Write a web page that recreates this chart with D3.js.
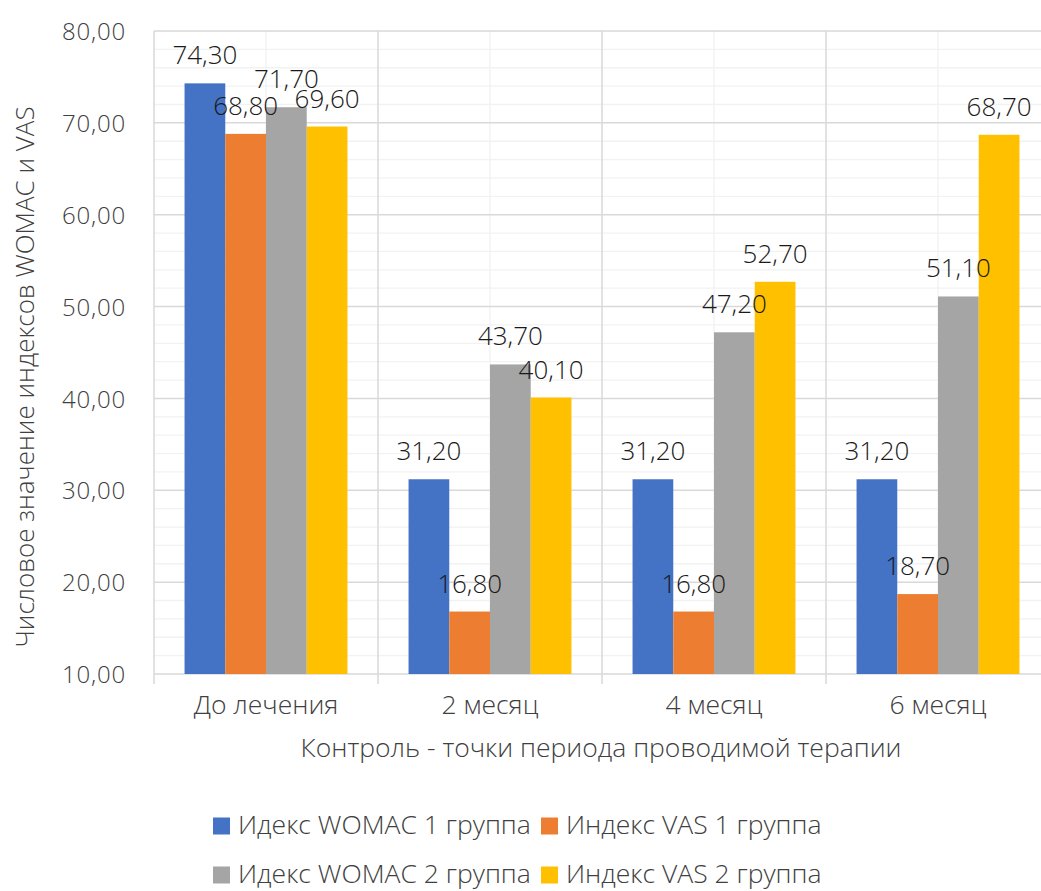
<!DOCTYPE html>
<html><head><meta charset="utf-8">
<script src="https://cdn.jsdelivr.net/npm/d3@7"></script>
<style>body{margin:0;background:#fff}svg{display:block}text{font-family:"Open Sans",sans-serif;font-weight:300}</style>
</head><body>
<svg id="c" width="1041" height="891"></svg>
<script>
const categories = ["До лечения","2 месяц","4 месяц","6 месяц"];
const seriesNames = ["Идекс WOMAC 1 группа","Индекс VAS 1 группа","Идекс WOMAC 2 группа","Индекс VAS 2 группа"];
const womac1 = [74.3, 31.2, 31.2, 31.2];
const vas1 = [68.8, 16.8, 16.8, 18.7];
const womac2 = [71.7, 43.7, 47.2, 51.1];
const vas2 = [69.6, 40.1, 52.7, 68.7];
const yTicks = [10,20,30,40,50,60,70,80];
const colors = ["#4472C4","#ED7D31","#A5A5A5","#FFC000"];
const yTitle = "Числовое значение индексов WOMAC и VAS";
const xTitle = "Контроль - точки периода проводимой терапии";

const series = [womac1, vas1, womac2, vas2];
const svg = d3.select("#c");
const L = 154, R = 1050, T = 31, B = 674;
const fmt = v => v.toFixed(2).replace(".", ",");

const x0 = d3.scaleBand().domain(categories).range([L, R]).padding(0);
const x1 = d3.scaleBand().domain(d3.range(series.length)).range([0, x0.bandwidth()]).paddingOuter(0.75).paddingInner(0);
const y = d3.scaleLinear().domain([10, 80]).range([B, T]);

const g = svg.append("g");
g.append("g").selectAll("line").data(d3.range(12, 80, 2).filter(v => v % 10 !== 0)).join("line")
  .attr("x1", L).attr("x2", R).attr("y1", d => y(d)).attr("y2", d => y(d))
  .attr("stroke", "#f2f2f2").attr("stroke-width", 1.3);
g.append("g").selectAll("line").data(categories).join("line")
  .attr("x1", d => x0(d) + x0.bandwidth()/2).attr("x2", d => x0(d) + x0.bandwidth()/2)
  .attr("y1", T).attr("y2", B).attr("stroke", "#f2f2f2").attr("stroke-width", 1.3);
g.append("g").selectAll("line").data(yTicks).join("line")
  .attr("x1", L).attr("x2", R).attr("y1", d => y(d)).attr("y2", d => y(d))
  .attr("stroke", "#d9d9d9").attr("stroke-width", 1.5);
const bounds = categories.map(c => x0(c)).concat([R]);
g.append("g").selectAll("line").data(bounds).join("line")
  .attr("x1", d => d).attr("x2", d => d).attr("y1", T).attr("y2", B + 10)
  .attr("stroke", "#d9d9d9").attr("stroke-width", 1.5);

series.forEach((s, i) => {
  svg.append("g").selectAll("rect").data(categories).join("rect")
    .attr("x", (c) => x0(c) + x1(i))
    .attr("width", x1.bandwidth())
    .attr("y", (c, j) => y(s[j]))
    .attr("height", (c, j) => y(10) - y(s[j]))
    .attr("fill", colors[i]);
});
series.forEach((s, i) => {
  svg.append("g").selectAll("text").data(categories).join("text")
    .attr("x", (c) => x0(c) + x1(i) + x1.bandwidth()/2)
    .attr("y", (c, j) => y(s[j]) - 19)
    .attr("text-anchor", "middle")
    .attr("font-size", 26).attr("fill", "#1a1a1a")
    .text((c, j) => fmt(s[j]));
});

const yAxis = svg.append("g").attr("transform", `translate(${L},0)`)
  .call(d3.axisLeft(y).tickValues(yTicks).tickSize(0).tickPadding(28).tickFormat(fmt));
yAxis.select(".domain").remove();
yAxis.selectAll("text").attr("font-size", 24).attr("letter-spacing", 0.8).attr("fill", "#404040")
  .attr("font-family", "Open Sans").attr("font-weight", 300).attr("dy", "0.36em");

const xAxis = svg.append("g").attr("transform", `translate(0,${B})`)
  .call(d3.axisBottom(x0).tickSize(0).tickPadding(21));
xAxis.select(".domain").remove();
xAxis.selectAll("text").attr("font-size", 26.5).attr("fill", "#404040")
  .attr("font-family", "Open Sans").attr("font-weight", 300);

svg.append("text").attr("x", 601).attr("y", 757).attr("text-anchor", "middle")
  .attr("font-size", 26.5).attr("fill", "#404040").text(xTitle);
svg.append("text").attr("transform", `translate(34,377) rotate(-90)`)
  .attr("text-anchor", "middle").attr("font-size", 26).attr("fill", "#404040").text(yTitle);

const legendPos = [[213, 826], [541, 826], [213, 875], [541, 875]];
const lg = svg.append("g");
seriesNames.forEach((n, i) => {
  const [lx, ly] = legendPos[i];
  lg.append("rect").attr("x", lx).attr("y", ly - 8.5).attr("width", 17).attr("height", 17).attr("fill", colors[i]);
  lg.append("text").attr("x", lx + 25).attr("y", ly + 8).attr("font-size", 26.5).attr("fill", "#404040").text(n);
});
</script>
</body></html>
